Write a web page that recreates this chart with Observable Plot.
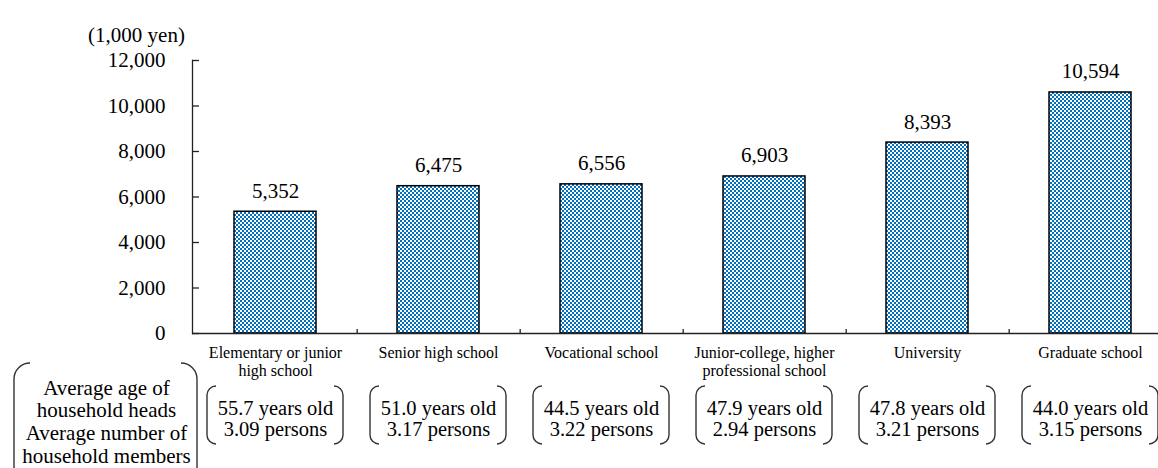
<!DOCTYPE html>
<html>
<head>
<meta charset="utf-8">
<script src="https://cdn.jsdelivr.net/npm/d3@7"></script>
<script src="https://cdn.jsdelivr.net/npm/@observablehq/plot@0.6"></script>
<style>
  html, body { margin: 0; padding: 0; background: #fff; overflow: hidden; }
</style>
</head>
<body>
<svg width="0" height="0" style="position:absolute">
  <defs>
    <pattern id="checker" patternUnits="userSpaceOnUse" width="4" height="4">
      <rect width="4" height="4" fill="#ffffff"></rect>
      <rect x="0" y="0" width="2" height="2" fill="#0070C0"></rect>
      <rect x="2" y="2" width="2" height="2" fill="#0070C0"></rect>
    </pattern>
  </defs>
</svg>
<div id="chart"></div>
<script>
// ---- data ----
const categories = [
  "Elementary or junior high school",
  "Senior high school",
  "Vocational school",
  "Junior-college, higher professional school",
  "University",
  "Graduate school"
];
const categoryLabels = [
  "Elementary or junior\nhigh school",
  "Senior high school",
  "Vocational school",
  "Junior-college, higher\nprofessional school",
  "University",
  "Graduate school"
];
const incomes = [5352, 6475, 6556, 6903, 8393, 10594];
const ages = ["55.7", "51.0", "44.5", "47.9", "47.8", "44.0"];
const members = ["3.09", "3.17", "3.22", "2.94", "3.21", "3.15"];
const yTicks = [0, 2000, 4000, 6000, 8000, 10000, 12000];
const unitLabel = "(1,000 yen)";
const rowLabel = "Average age of\nhousehold heads\nAverage number of\nhousehold members";

const data = categories.map((c, i) => ({
  cat: c, label: categoryLabels[i], value: incomes[i], age: ages[i], members: members[i]
}));

// ---- layout ----
const W = 1158, H = 468;
const xRange = [192, 1172];
const step = (xRange[1] - xRange[0]) / categories.length;
const fmt = d3.format(",");
const axisColor = "#222";

const chart = Plot.plot({
  width: W,
  height: H,
  marginLeft: 192,
  marginRight: 0,
  marginTop: 60,
  marginBottom: 135,
  style: {
    fontFamily: "'Liberation Serif', 'Times New Roman', serif",
    fontSize: "21px",
    color: "#000",
    background: "#fff"
  },
  x: {type: "band", domain: categories, range: xRange, paddingInner: 0.5, paddingOuter: 0.25, align: 0.5, axis: null},
  y: {domain: [0, 12000], axis: null},
  marks: [
    Plot.barY(data, {x: "cat", y: "value", fill: "url(#checker)", stroke: "#000", strokeWidth: 1.5}),
    Plot.frame({anchor: "left", stroke: axisColor, strokeWidth: 1.3}),
    Plot.ruleY([0], {stroke: axisColor, strokeWidth: 1.3}),
    Plot.tickY(yTicks, {y: d => d, insetRight: (W - 192) - 7, stroke: axisColor, strokeWidth: 1.3}),
    Plot.tickX(data, {x: "cat", dx: step / 2, insetTop: 273 - 4, stroke: axisColor, strokeWidth: 1.3}),
    Plot.axisY(yTicks, {tickSize: 0, tickPadding: 27, tickFormat: fmt, fontSize: 21, label: null}),
    Plot.text([unitLabel], {frameAnchor: "top-left", dx: -56, dy: -33, textAnchor: "middle", fontSize: 21}),
    Plot.text(data, {x: "cat", y: "value", text: d => fmt(d.value), lineAnchor: "bottom", dy: -14, fontSize: 21}),
    Plot.text(data, {x: "cat", y: d => 0, text: "label", lineAnchor: "top", dy: 12, fontSize: 16, lineHeight: 1.125}),
    Plot.text(data, {x: "cat", y: d => 0, text: d => `${d.age} years old\n${d.members} persons`, lineAnchor: "top", dy: 67, fontSize: 20.5, lineHeight: 1.0}),
    Plot.text([rowLabel], {frameAnchor: "bottom-left", dx: -86, dy: 45, textAnchor: "middle", lineAnchor: "top", fontSize: 21, lineHeight: 1.08})
  ]
});

document.getElementById("chart").appendChild(chart);

// ---- bracket pairs around the annotation boxes ----
const xs = chart.scale("x");
const center = c => xs.apply(c) + xs.bandwidth / 2;
const g = d3.select(chart).append("g")
  .attr("fill", "none")
  .attr("stroke", "#333")
  .attr("stroke-width", 1.4);

function bracketPair(L, R, top, bottom, r) {
  g.append("path").attr("d",
    `M${L + r},${top} A${r},${r} 0 0 0 ${L},${top + r} L${L},${bottom - r} A${r},${r} 0 0 0 ${L + r},${bottom}`);
  g.append("path").attr("d",
    `M${R - r},${top} A${r},${r} 0 0 1 ${R},${top + r} L${R},${bottom - r} A${r},${r} 0 0 1 ${R - r},${bottom}`);
}

categories.forEach(c => {
  const cx = center(c);
  bracketPair(cx - 68, cx + 68, 386, 444, 9);
});
bracketPair(14, 197, 363, 484, 16);
</script>
</body>
</html>
